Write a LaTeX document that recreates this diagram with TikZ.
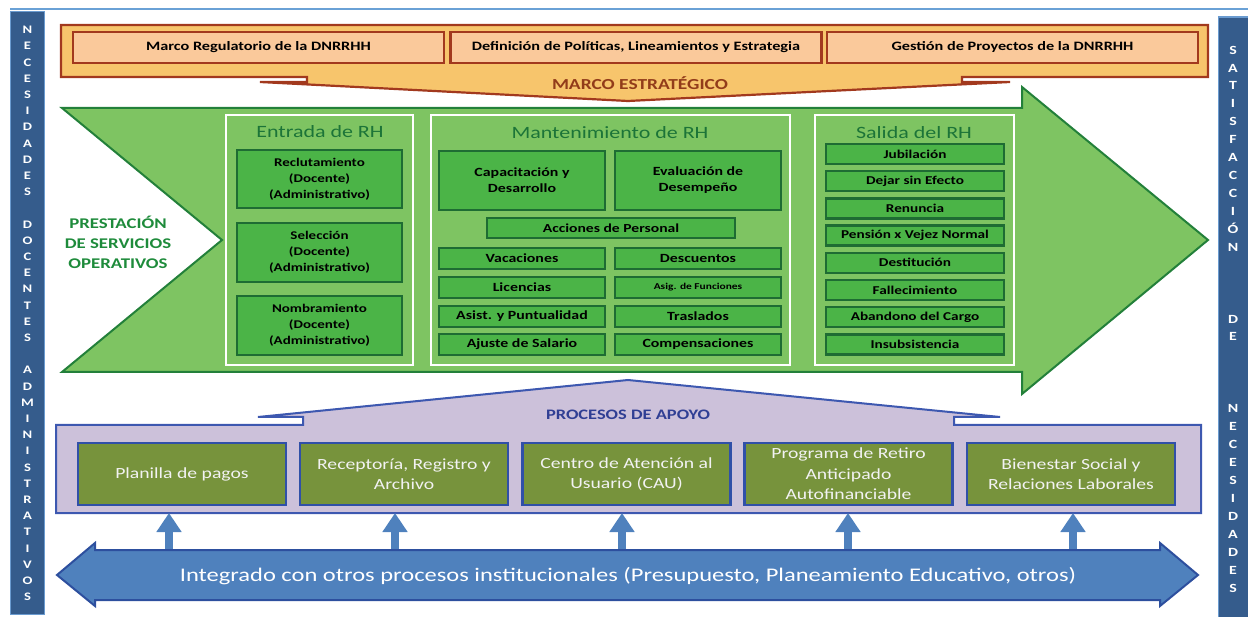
\documentclass[tikz,border=0pt]{standalone}
\usepackage{fontspec}
\setmainfont{Carlito}[FakeStretch=1.27]
\usetikzlibrary{arrows.meta}
\newcommand\myfs[2]{\fontsize{#1}{#2}\selectfont}
\definecolor{topline}{HTML}{6AA1D6}
\definecolor{sidebar}{HTML}{355C8C}
\definecolor{sideedge}{HTML}{6A9BD0}
\definecolor{orfill}{HTML}{F7C56C}
\definecolor{ordraw}{HTML}{A2391E}
\definecolor{peach}{HTML}{FAC99B}
\definecolor{mecol}{HTML}{923C1A}
\definecolor{grfill}{HTML}{7EC462}
\definecolor{grdraw}{HTML}{23803A}
\definecolor{gbox}{HTML}{4BB447}
\definecolor{gboxdraw}{HTML}{1E6C33}
\definecolor{gtitle}{HTML}{1C7438}
\definecolor{gprest}{HTML}{1E8B3B}
\definecolor{purfill}{HTML}{CCC1DA}
\definecolor{purdraw}{HTML}{3D58B0}
\definecolor{olive}{HTML}{77933C}
\definecolor{olivedraw}{HTML}{3050A8}
\definecolor{apoyo}{HTML}{303F94}
\definecolor{bluearrow}{HTML}{4F81BD}
\definecolor{bluedraw}{HTML}{2D4F9E}
\begin{document}
\begin{tikzpicture}[x=1pt,y=-1pt,
  sidetext/.style={text=white,align=center,inner sep=0pt,font=\bfseries\myfs{11.5}{16.2}},
  peachbox/.style={draw=ordraw,line width=2.2pt,fill=peach,minimum width=371pt,minimum height=31pt,inner sep=0pt,font=\bfseries\myfs{12.8}{14}},
  panel/.style={draw=white,line width=2.4pt,fill=grfill,inner sep=0pt,minimum height=250pt},
  ptitle/.style={text=gtitle,inner sep=0pt,font=\myfs{17.3}{20}},
  gb/.style={draw=gboxdraw,line width=2.3pt,fill=gbox,inner sep=0pt,align=center,font=\bfseries\myfs{11.8}{16}},
  ob/.style={draw=olivedraw,line width=2.3pt,fill=olive,inner sep=0pt,align=center,text=white!95!black,minimum width=208pt,minimum height=62pt,font=\myfs{15.5}{19.5}},
  uparrow/.style={bluearrow,line width=8pt,-{Triangle[width=24pt,length=19pt]}}
]
\useasboundingbox (0,0) rectangle (1248,617);
% top line and side bars
\draw[topline,line width=2pt] (10,9) -- (1248,9);
\node[draw=sideedge,line width=1.5pt,fill=sidebar,minimum width=34pt,minimum height=603pt,inner sep=0pt] (lbar) at (27.5,313) {};
\node[sidetext] (ltext) at (27.5,313.5) {N\\E\\C\\E\\S\\I\\D\\A\\D\\E\\S\\~\\D\\O\\C\\E\\N\\T\\E\\S\\~\\A\\D\\M\\I\\N\\I\\S\\T\\R\\A\\T\\I\\V\\O\\S};
\node[draw=sideedge,line width=1.5pt,fill=sidebar,minimum width=31pt,minimum height=602pt,inner sep=0pt] (rbar) at (1234,318) {};
\node[sidetext,font=\bfseries\myfs{12.5}{17.93}] (rtext) at (1233,319) {S\\A\\T\\I\\S\\F\\A\\C\\C\\I\\Ó\\N\\~\\~\\~\\D\\E\\~\\~\\~\\N\\E\\C\\E\\S\\I\\D\\A\\D\\E\\S};
% marco estrategico
\draw[ordraw,line width=2.2pt,fill=orfill,line join=miter]
  (61,25) -- (1208,25) -- (1208,77) -- (962,77) -- (962,82) -- (1010,82) -- (628,101)
  -- (260,82) -- (307,82) -- (307,77) -- (61,77) -- cycle;
\node[peachbox] (mr) at (258.5,47.5) {Marco Regulatorio de la DNRRHH};
\node[peachbox] (dp) at (636,47.5) {Definición de Políticas, Lineamientos y Estrategia};
\node[peachbox] (gp) at (1012.5,47.5) {Gestión de Proyectos de la DNRRHH};
\node[text=mecol,font=\bfseries\myfs{15.3}{18},inner sep=0pt] (me) at (640,83) {MARCO ESTRATÉGICO};
% green arrow
\draw[grdraw,line width=2pt,fill=grfill,line join=miter]
  (62,108) -- (1022,108) -- (1022,87) -- (1208,240) -- (1022,394) -- (1022,372) -- (62,372) -- (222,240) -- cycle;
\node[text=gprest,align=center,font=\bfseries\myfs{14.8}{20},inner sep=0pt] (prest) at (118,242) {PRESTACIÓN\\DE SERVICIOS\\OPERATIVOS};
% panels
\node[panel,minimum width=187pt] (pin) at (319.5,240) {};
\node[panel,minimum width=359pt] (pman) at (610.5,240) {};
\node[panel,minimum width=199pt] (pout) at (914.5,240) {};
\node[ptitle] (tin) at (320,132) {Entrada de RH};
\node[ptitle] (tman) at (610,133) {Mantenimiento de RH};
\node[ptitle] (tout) at (914,133) {Salida del RH};
% entrada
\node[gb,minimum width=165pt,minimum height=58pt] (rec) at (319.5,179) {Reclutamiento\\(Docente)\\(Administrativo)};
\node[gb,minimum width=165pt,minimum height=59pt] (sel) at (319.5,252.5) {Selección\\(Docente)\\(Administrativo)};
\node[gb,minimum width=165pt,minimum height=59pt] (nom) at (319.5,325.5) {Nombramiento\\(Docente)\\(Administrativo)};
% mantenimiento
\node[gb,minimum width=166pt,minimum height=59pt,font=\bfseries\myfs{12.5}{16}] (cap) at (522,180.5) {Capacitación y\\Desarrollo};
\node[gb,minimum width=166pt,minimum height=59pt,font=\bfseries\myfs{12.5}{16}] (eva) at (698,180.5) {Evaluación de\\Desempeño};
\node[gb,minimum width=248pt,minimum height=20pt,font=\bfseries\myfs{12.3}{14}] (acc) at (611,228) {Acciones de Personal};
\begin{scope}[every node/.style={gb,minimum width=166pt,minimum height=21pt,font=\bfseries\myfs{12.5}{14}}]
\node (vac) at (522,258.5) {Vacaciones};
\node (des) at (698,258.5) {Descuentos};
\node (lic) at (522,287.5) {Licencias};
\node[font=\bfseries\myfs{9}{10}] (asg) at (698,287.5) {Asig. de Funciones};
\node (asi) at (522,316.5) {Asist. y Puntualidad};
\node (tra) at (698,316.5) {Traslados};
\node (aju) at (522,344.5) {Ajuste de Salario};
\node (com) at (698,344.5) {Compensaciones};
\end{scope}
% salida
\begin{scope}[every node/.style={gb,minimum width=178pt,minimum height=20pt,font=\bfseries\myfs{12}{13}}]
\node (s1) at (915,154) {Jubilación};
\node (s2) at (915,181.2) {Dejar sin Efecto};
\node (s3) at (915,208.4) {Renuncia};
\node (s4) at (915,235.6) {Pensión x Vejez Normal};
\node (s5) at (915,262.8) {Destitución};
\node (s6) at (915,290) {Fallecimiento};
\node (s7) at (915,317.2) {Abandono del Cargo};
\node (s8) at (915,344.4) {Insubsistencia};
\end{scope}
% procesos de apoyo
\draw[purdraw,line width=2pt,fill=purfill,line join=miter]
  (56,425) -- (303,425) -- (303,417) -- (258,417) -- (628,380) -- (1000,417) -- (954,417)
  -- (954,425) -- (1201,425) -- (1201,513) -- (56,513) -- cycle;
\coordinate (pbot) at (628,513);
\node[text=apoyo,font=\bfseries\myfs{14.5}{17},inner sep=0pt] (apo) at (628,415) {PROCESOS DE APOYO};
\node[ob] (b1) at (182,474) {Planilla de pagos};
\node[ob] (b2) at (404,474) {Receptoría, Registro y\\Archivo};
\node[ob] (b3) at (626.5,474) {Centro de Atención al\\Usuario (CAU)};
\node[ob,font=\myfs{15.5}{20.5}] (b4) at (848.5,474) {Programa de Retiro\\Anticipado\\Autofinanciable};
\node[ob] (b5) at (1071,474) {Bienestar Social y\\Relaciones Laborales};
% blue double arrow
\draw[bluedraw,line width=2pt,fill=bluearrow,line join=miter]
  (57,575) -- (95,543) -- (95,550) -- (1160,550) -- (1160,543) -- (1198,575) -- (1160,606)
  -- (1160,600) -- (95,600) -- (95,606) -- cycle;
\node[text=white,font=\myfs{19.3}{22},inner sep=0pt] (integ) at (628,576) {Integrado con otros procesos institucionales (Presupuesto, Planeamiento Educativo, otros)};
\coordinate (itop) at (628,549);
% up arrows
\foreach \x in {169,395,622,848,1073}{
  \draw[uparrow] (itop -| \x,0) -- (pbot -| \x,0);
}
\end{tikzpicture}
\end{document}
